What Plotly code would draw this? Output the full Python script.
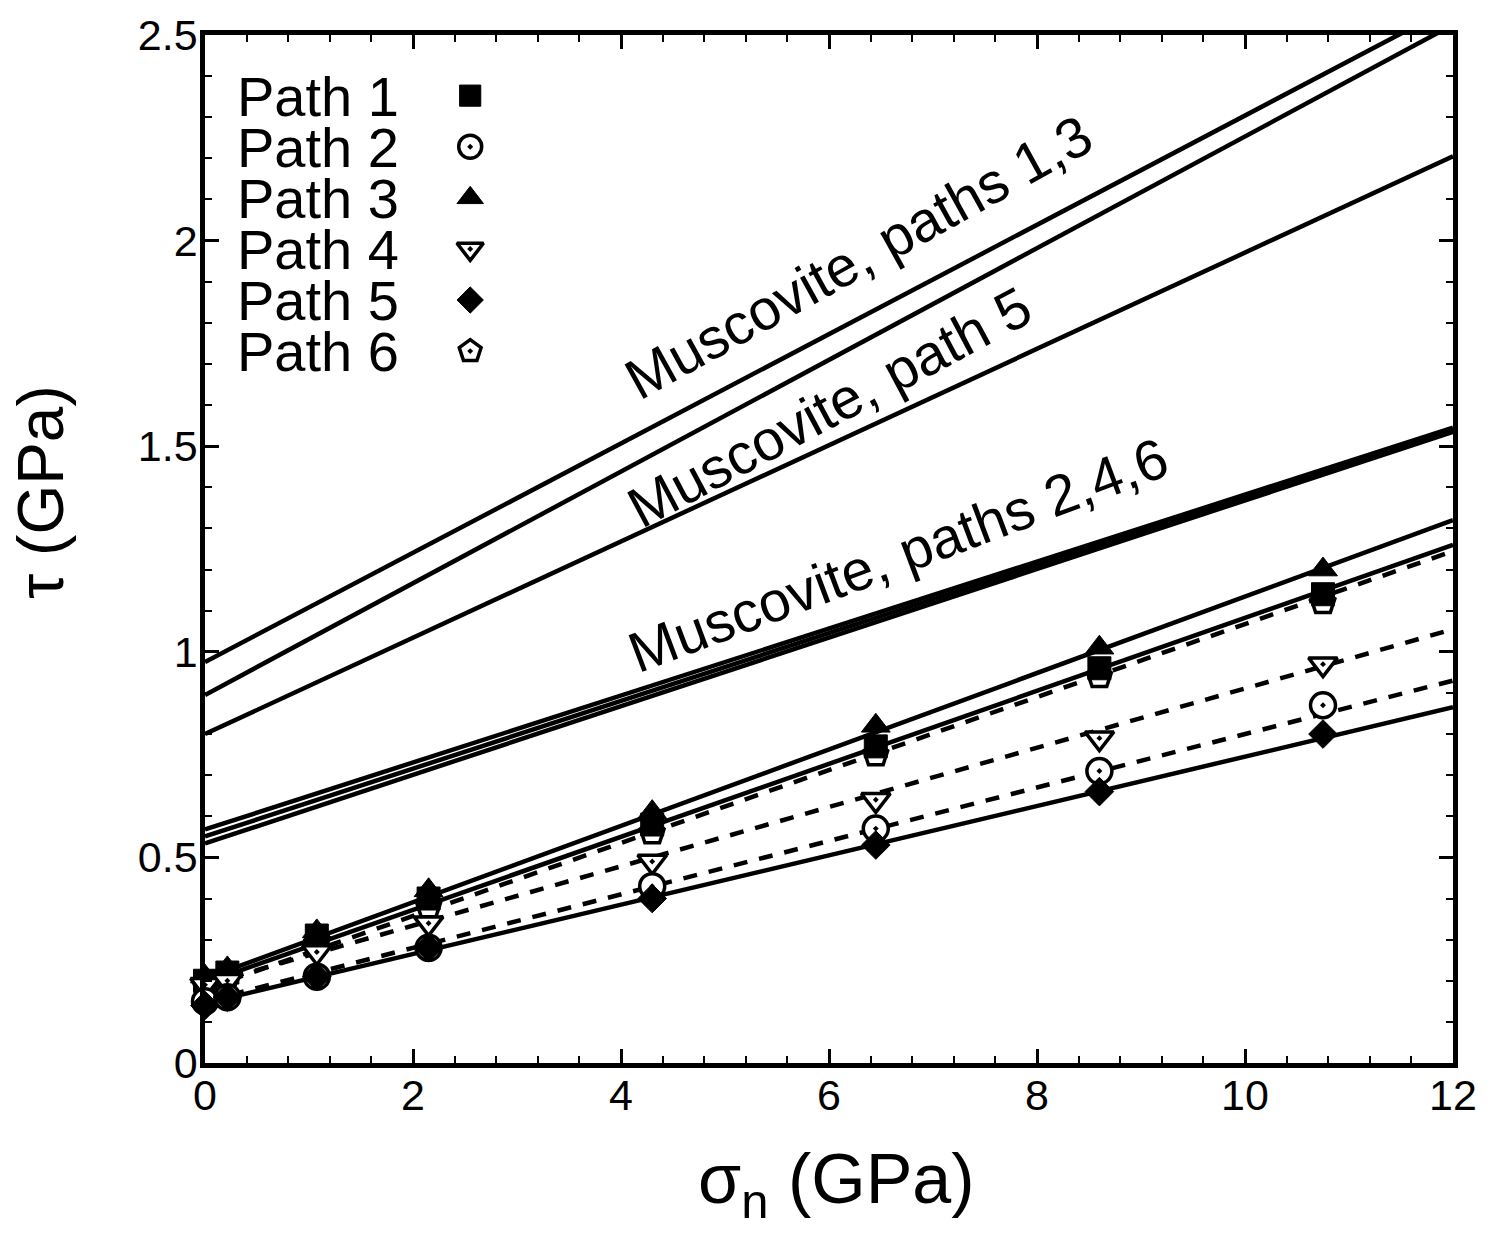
import plotly.graph_objects as go

# ---------------- data ----------------
sigma = [0.0, 0.215, 1.075, 2.15, 4.3, 6.45, 8.6, 10.75]
tau_path1 = [0.20, 0.22, 0.31, 0.40, 0.58, 0.77, 0.96, 1.14]
tau_path2 = [0.15, 0.16, 0.21, 0.28, 0.43, 0.57, 0.71, 0.87]
tau_path3 = [0.21, 0.23, 0.32, 0.42, 0.61, 0.82, 1.01, 1.20]
tau_path4 = [0.19, 0.20, 0.27, 0.34, 0.49, 0.64, 0.79, 0.97]
tau_path5 = [0.14, 0.16, 0.21, 0.28, 0.40, 0.53, 0.66, 0.80]
tau_path6 = [0.19, 0.21, 0.29, 0.38, 0.56, 0.75, 0.94, 1.12]

fit_x = [0.0, 12.0]
fit_path1 = [0.195, 1.26]
fit_path2 = [0.15, 0.93]
fit_path3 = [0.205, 1.32]
fit_path4 = [0.19, 1.055]
fit_path5 = [0.145, 0.865]
fit_path6 = [0.18, 1.245]

musc_x = [0.0, 12.0]
musc_paths13_a = [0.975, 2.57]
musc_paths13_b = [0.895, 2.525]
musc_path5 = [0.80, 2.205]
musc_paths246_a = [0.568, 1.545]
musc_paths246_b = [0.551, 1.540]
musc_paths246_c = [0.534, 1.535]

legend_names = ["Path 1", "Path 2", "Path 3", "Path 4", "Path 5", "Path 6"]
x_ticks = [0, 2, 4, 6, 8, 10, 12]
y_ticks = [0, 0.5, 1, 1.5, 2, 2.5]
y_tick_text = ["0", "0.5", "1", "1.5", "2", "2.5"]

FONT = "Liberation Sans, Arial, sans-serif"
fig = go.Figure()

def line(xs, ys, dash="solid", width=4.5):
    fig.add_trace(go.Scatter(x=xs, y=ys, mode="lines", showlegend=False,
                             line=dict(color="black", width=width, dash=dash),
                             hoverinfo="skip", cliponaxis=True))

# muscovite lines
for ys in [musc_paths13_a, musc_paths13_b, musc_path5,
           musc_paths246_a, musc_paths246_b, musc_paths246_c]:
    line(musc_x, ys)

# fit lines
DASH = "14px,12px"
line(fit_x, fit_path3)
line(fit_x, fit_path1)
line(fit_x, fit_path6, dash=DASH)
line(fit_x, fit_path4, dash=DASH)
line(fit_x, fit_path2, dash=DASH)
line(fit_x, fit_path5)

def styles(scale=1.0):
    return {
        "Path 1": dict(symbol="square", size=23 * scale, color="black", line=dict(color="black", width=1)),
        "Path 2": dict(symbol="circle-dot", size=25 * scale, color="white", line=dict(color="black", width=3.5)),
        "Path 3": dict(symbol="triangle-up", size=25 * scale, color="black", line=dict(color="black", width=1)),
        "Path 4": dict(symbol="triangle-down-dot", size=25 * scale, color="white", line=dict(color="black", width=3.5)),
        "Path 5": dict(symbol="diamond", size=22 * scale, color="black", line=dict(color="black", width=1)),
        "Path 6": dict(symbol="pentagon-dot", size=25 * scale, color="white", line=dict(color="black", width=3.5)),
    }
data_styles = styles(1.0)
series = {"Path 1": tau_path1, "Path 2": tau_path2, "Path 3": tau_path3,
          "Path 4": tau_path4, "Path 5": tau_path5, "Path 6": tau_path6}
for name in ["Path 6", "Path 1", "Path 3", "Path 4", "Path 2", "Path 5"]:
    fig.add_trace(go.Scatter(x=sigma, y=series[name], mode="markers", name=name,
                             marker=data_styles[name], showlegend=False, cliponaxis=False))

# custom legend (text left, symbol right) on an overlay axis in fractions
leg_styles = styles(0.92)
leg_y0, leg_dy = 0.941, 0.0497
leg_ys = [leg_y0 - i * leg_dy for i in range(len(legend_names))]
for name, yy in zip(legend_names, leg_ys):
    fig.add_trace(go.Scatter(x=[0.2125], y=[yy], mode="markers", xaxis="x2", yaxis="y2",
                             marker=leg_styles[name], showlegend=False, hoverinfo="skip", cliponaxis=False))
    fig.add_annotation(text=name, xref="x domain", yref="y domain", x=0.157, y=yy,
                       xanchor="right", yanchor="middle", showarrow=False, height=50,
                       font=dict(family=FONT, size=56, color="black"))

# muscovite labels
labels = [("Muscovite, paths 1,3", 6.28, 1.96, -29),
          ("Muscovite, path 5", 6.00, 1.595, -28),
          ("Muscovite, paths 2,4,6", 6.66, 1.235, -20.5)]
for txt, xx, yy, ang in labels:
    fig.add_annotation(text=txt, x=xx, y=yy, xref="x", yref="y", showarrow=False,
                       textangle=ang, font=dict(family=FONT, size=57, color="black"))

# axis titles (paper coords are relative to the plot area)
fig.add_annotation(text="τ (GPa)", xref="paper", yref="paper", x=-0.131, y=0.555,
                   xanchor="center", yanchor="middle", textangle=-90, showarrow=False,
                   font=dict(family=FONT, size=64, color="black"))
fig.add_annotation(text="σ<sub>n</sub> (GPa)", xref="paper", yref="paper", x=0.506, y=-0.118,
                   xanchor="center", yanchor="middle", showarrow=False,
                   font=dict(family=FONT, size=70, color="black"))

axis_common = dict(showline=True, linewidth=4.5, linecolor="black", mirror="allticks",
                   ticks="inside", ticklen=14, tickwidth=2.5, tickcolor="black",
                   showgrid=False, zeroline=False,
                   tickfont=dict(family=FONT, size=43, color="black"))
fig.update_layout(
    width=1500, height=1234,
    margin=dict(l=205, r=47, t=35, b=171),
    paper_bgcolor="white", plot_bgcolor="white",
    font=dict(family=FONT, color="black"),
    xaxis=dict(range=[0, 12], tickvals=x_ticks, ticklabelstandoff=-9,
               minor=dict(ticks="inside", ticklen=7, tickwidth=2, dtick=0.4, tickcolor="black"),
               **axis_common),
    yaxis=dict(range=[0, 2.5], tickvals=y_ticks, ticktext=y_tick_text, ticklabelstandoff=-6,
               minor=dict(ticks="inside", ticklen=7, tickwidth=2, dtick=0.1, tickcolor="black"),
               **axis_common),
    xaxis2=dict(overlaying="x", range=[0, 1], visible=False),
    yaxis2=dict(overlaying="y", range=[0, 1], visible=False),
)

fig.write_html("out.html")
